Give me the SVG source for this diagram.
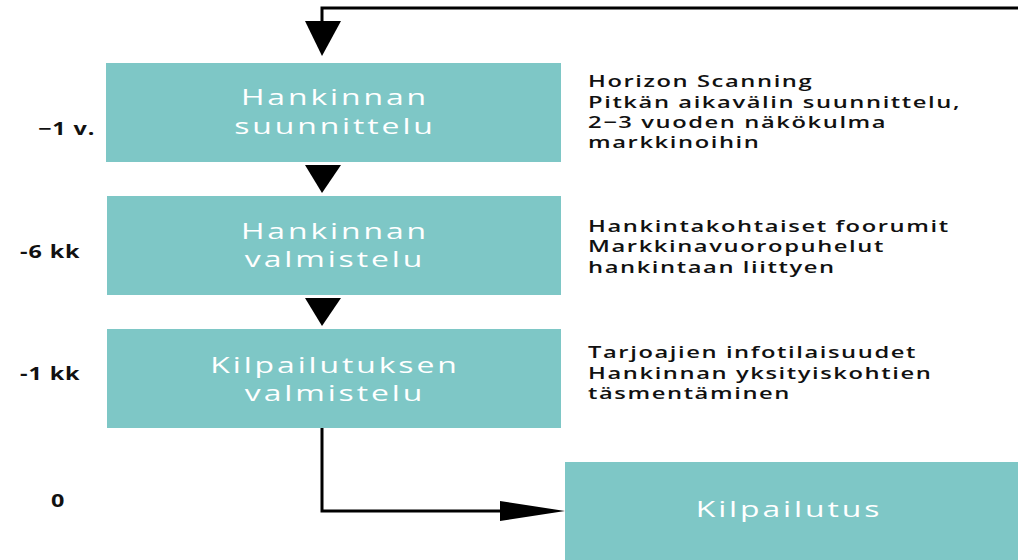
<svg xmlns="http://www.w3.org/2000/svg" width="1018" height="560" viewBox="0 0 1018 560">
<style>
.box{fill:#7ec7c6}
.bt{font-family:"Open Sans","DejaVu Sans",sans-serif;font-size:22px;font-weight:500;fill:#ffffff;letter-spacing:2px;text-anchor:middle}
.lab{font-family:"Open Sans","DejaVu Sans",sans-serif;font-size:18px;font-weight:700;fill:#111;letter-spacing:0.7px}
.desc{font-family:"Open Sans","DejaVu Sans",sans-serif;font-size:16.5px;font-weight:600;fill:#111;letter-spacing:1.1px}
.ln{fill:none;stroke:#000;stroke-width:3}
.ah{fill:#000}
</style>
<g id="connectors">
<polyline class="ln" points="1018,8 322,8 322,22"/>
<polygon class="ah" points="305,21 341,21 322,56"/>
<polygon class="ah" points="305,165 341,165 322,193"/>
<polygon class="ah" points="305,298 341,298 322,326"/>
<polyline class="ln" points="322,428 322,511 502,511"/>
<polygon class="ah" points="500,501 500,521 565,511"/>
</g>
<g id="node1">
<rect class="box" x="106" y="63" width="455" height="99"/>
<g transform="translate(335,0) scale(1.45,1)">
<text class="bt" x="0" y="105">Hankinnan</text>
<text class="bt" x="0" y="134">suunnittelu</text>
</g>
</g>
<g id="node2">
<rect class="box" x="107" y="196" width="454" height="99"/>
<g transform="translate(335,0) scale(1.45,1)">
<text class="bt" x="0" y="239">Hankinnan</text>
<text class="bt" x="0" y="267">valmistelu</text>
</g>
</g>
<g id="node3">
<rect class="box" x="107" y="329" width="454" height="99"/>
<g transform="translate(335,0) scale(1.45,1)">
<text class="bt" x="0" y="373">Kilpailutuksen</text>
<text class="bt" x="0" y="401">valmistelu</text>
</g>
</g>
<g id="node4">
<rect class="box" x="565" y="462" width="453" height="98"/>
<g transform="translate(789,0) scale(1.45,1)">
<text class="bt" x="0" y="517">Kilpailutus</text>
</g>
</g>
<g id="labels">
<g transform="translate(38,0) scale(1.3,1)"><text class="lab" x="0" y="135">−1 v.</text></g>
<g transform="translate(20,0) scale(1.3,1)"><text class="lab" x="0" y="258">-6 kk</text></g>
<g transform="translate(20,0) scale(1.3,1)"><text class="lab" x="0" y="380">-1 kk</text></g>
<g transform="translate(51,0) scale(1.3,1)"><text class="lab" x="0" y="507">0</text></g>
</g>
<g id="descriptions">
<g transform="translate(588,0) scale(1.44,1)">
<text class="desc" x="0" y="87">Horizon Scanning</text>
<text class="desc" x="0" y="108">Pitkän aikavälin suunnittelu,</text>
<text class="desc" x="0" y="128">2−3 vuoden näkökulma</text>
<text class="desc" x="0" y="148">markkinoihin</text>
<text class="desc" x="0" y="232">Hankintakohtaiset foorumit</text>
<text class="desc" x="0" y="252">Markkinavuoropuhelut</text>
<text class="desc" x="0" y="273">hankintaan liittyen</text>
<text class="desc" x="0" y="358">Tarjoajien infotilaisuudet</text>
<text class="desc" x="0" y="379">Hankinnan yksityiskohtien</text>
<text class="desc" x="0" y="399">täsmentäminen</text>
</g>
</g>
</svg>
